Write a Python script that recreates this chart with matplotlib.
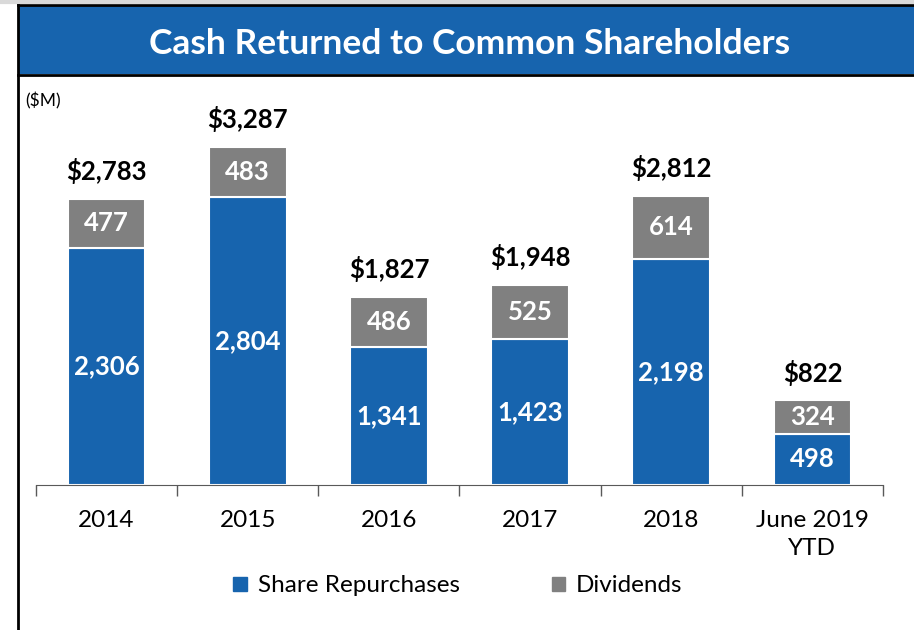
import numpy as np
import matplotlib.pyplot as plt
from matplotlib.patches import Rectangle
from matplotlib.lines import Line2D

plt.rcParams['font.family'] = ['Lato', 'DejaVu Sans']

categories = ['2014', '2015', '2016', '2017', '2018', 'June 2019\nYTD']
repurchases = [2306, 2804, 1341, 1423, 2198, 498]
dividends = [477, 483, 486, 525, 614, 324]
totals = [2783, 3287, 1827, 1948, 2812, 822]

blue = '#1764ae'
gray = '#808080'

W, H = 914, 630
fig = plt.figure(figsize=(W / 100, H / 100), dpi=100)

# banner + frame
fig.patches.append(Rectangle((18 / W, 1 - 74 / H), 1, 69 / H, transform=fig.transFigure,
                             facecolor=blue, edgecolor='none', zorder=0))
fig.add_artist(Line2D([18 / W, 1], [1 - 5 / H, 1 - 5 / H], color='black', lw=2))
fig.add_artist(Line2D([18 / W, 1], [1 - 74.5 / H, 1 - 74.5 / H], color='black', lw=2))
fig.add_artist(Line2D([0, 1], [1 - 2 / H, 1 - 2 / H], color='#d9d9d9', lw=3))
fig.add_artist(Line2D([18 / W, 18 / W], [0, 1 - 5 / H], color='black', lw=2))
fig.text(470 / W, 1 - 44 / H, 'Cash Returned to Common Shareholders', color='white',
         fontsize=25.5, fontweight='bold', ha='center', va='center')
fig.text(25 / W, 1 - 101 / H, '($M)', fontsize=12.5, ha='left', va='center')

# axes: baseline at y=485 px, scale ~0.1028 px per $M
ax = fig.add_axes([36 / W, 145 / H, (883 - 36) / W, (485 - 80) / H])
x = np.arange(len(categories))
ax.bar(x, repurchases, 0.55, color=blue, edgecolor='white', linewidth=1.5)
ax.bar(x, dividends, 0.55, bottom=repurchases, color=gray, edgecolor='white', linewidth=1.5)

for i in range(len(x)):
    ax.text(x[i], repurchases[i] / 2, f'{repurchases[i]:,}', color='white',
            fontsize=18.5, fontweight='bold', ha='center', va='center')
    ax.text(x[i], repurchases[i] + dividends[i] / 2, f'{dividends[i]:,}', color='white',
            fontsize=18.5, fontweight='bold', ha='center', va='center')
    ax.annotate(f'${totals[i]:,}', (x[i], totals[i]), xytext=(0, 20), textcoords='offset points',
                fontsize=18.5, fontweight='bold', ha='center', va='center')

ax.set_xlim(-0.5, 5.5)
ax.set_ylim(0, 405 / 0.1028)
for s in ['top', 'right', 'left']:
    ax.spines[s].set_visible(False)
ax.spines['bottom'].set_color('#595959')
ax.set_yticks([])
ax.set_xticks(x)
ax.set_xticklabels(categories, fontsize=17.5, linespacing=1.4)
ax.tick_params(axis='x', which='major', length=0, pad=18)
ax.set_xticks(np.arange(-0.5, 6, 1), minor=True)
ax.tick_params(axis='x', which='minor', length=8, color='#595959', width=1)

handles = [Rectangle((0, 0), 1, 1, color=blue), Rectangle((0, 0), 1, 1, color=gray)]
fig.legend(handles, ['Share Repurchases', 'Dividends'], loc='center', bbox_to_anchor=(458 / W, 1 - 586 / H),
           ncol=2, frameon=False, fontsize=17.5, handlelength=0.55, handleheight=0.55,
           handletextpad=0.45, columnspacing=3.8)

fig.savefig('out.png', dpi=100)
